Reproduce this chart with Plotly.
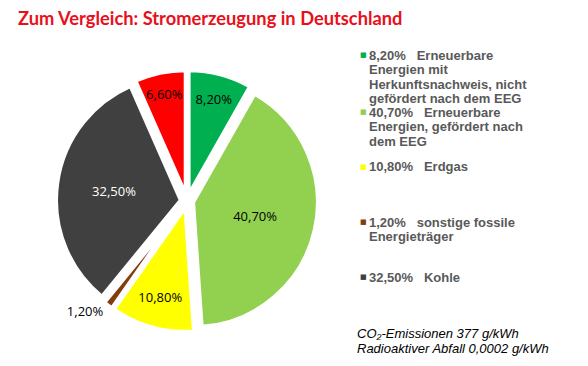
import plotly.graph_objects as go

labels = ["Erneuerbare Energien mit Herkunftsnachweis, nicht gefördert nach dem EEG",
          "Erneuerbare Energien, gefördert nach dem EEG",
          "Erdgas",
          "sonstige fossile Energieträger",
          "Kohle",
          "Kernenergie"]
values = [8.2, 40.7, 10.8, 1.2, 32.5, 6.6]
colors = ["#00B050", "#92D050", "#FFFF00", "#843C0C", "#404040", "#FF0000"]
text_colors = ["#000000", "#000000", "#000000", "#000000", "#FFFFFF", "#000000"]
text_pos = ["inside", "inside", "inside", "outside", "inside", "inside"]
legend_lines = [
    ["8,20%   Erneuerbare", "Energien mit", "Herkunftsnachweis, nicht", "gefördert nach dem EEG"],
    ["40,70%   Erneuerbare", "Energien, gefördert nach", "dem EEG"],
    ["10,80%   Erdgas"],
    ["1,20%   sonstige fossile", "Energieträger"],
    ["32,50%   Kohle"],
]
legend_y = [55, 112, 167, 222, 277]  # pixel rows of first legend line
note_lines = ["CO₂-Emissionen 377 g/kWh", "Radioaktiver Abfall 0,0002 g/kWh"]

W, H = 588, 366
texts = [f"{v:.2f}%".replace(".", ",") for v in values]

fig = go.Figure(go.Pie(
    labels=labels, values=values, text=texts, textinfo="text",
    sort=False, direction="clockwise", rotation=0,
    marker=dict(colors=colors, line=dict(color="white", width=4)),
    pull=[0.05] * len(values),
    textposition=text_pos,
    insidetextorientation="horizontal",
    textfont=dict(family="Open Sans", size=13, color=text_colors),
    outsidetextfont=dict(family="Open Sans", size=13, color="#000000"),
    domain=dict(x=[56 / W, 318 / W], y=[1 - 332 / H, 1 - 70 / H]),
    showlegend=False, hoverinfo="label+percent",
))

ann = [dict(text="<b>Zum Vergleich: Stromerzeugung in Deutschland</b>",
            x=16 / W, y=1 - 18 / H, xref="paper", yref="paper",
            xanchor="left", yanchor="middle", showarrow=False,
            font=dict(family="Lato", size=18.3, color="#E8101A"))]
lh = 14.5
for i, lines in enumerate(legend_lines):
    ann.append(dict(text="■", x=363 / W, y=1 - legend_y[i] / H, xref="paper", yref="paper",
                    xanchor="center", yanchor="middle", showarrow=False,
                    font=dict(family="DejaVu Sans", size=7, color=colors[i])))
    for j, ln in enumerate(lines):
        ann.append(dict(text="<b>" + ln + "</b>", x=367 / W, y=1 - (legend_y[i] + j * lh) / H,
                        xref="paper", yref="paper", xanchor="left", yanchor="middle",
                        showarrow=False,
                        font=dict(family="Liberation Sans", size=13, color="#595959")))
for j, ln in enumerate(note_lines):
    ann.append(dict(text="<i>" + ln + "</i>", x=355 / W, y=1 - (333 + j * 15) / H,
                    xref="paper", yref="paper", xanchor="left", yanchor="middle",
                    showarrow=False, font=dict(family="Liberation Sans", size=13, color="#000000")))

fig.update_layout(width=W, height=H, margin=dict(l=0, r=0, t=0, b=0),
                  paper_bgcolor="white", plot_bgcolor="white", annotations=ann)
fig.write_html("out.html", config={"displayModeBar": False},
               post_script="document.body.style.margin='0';")
